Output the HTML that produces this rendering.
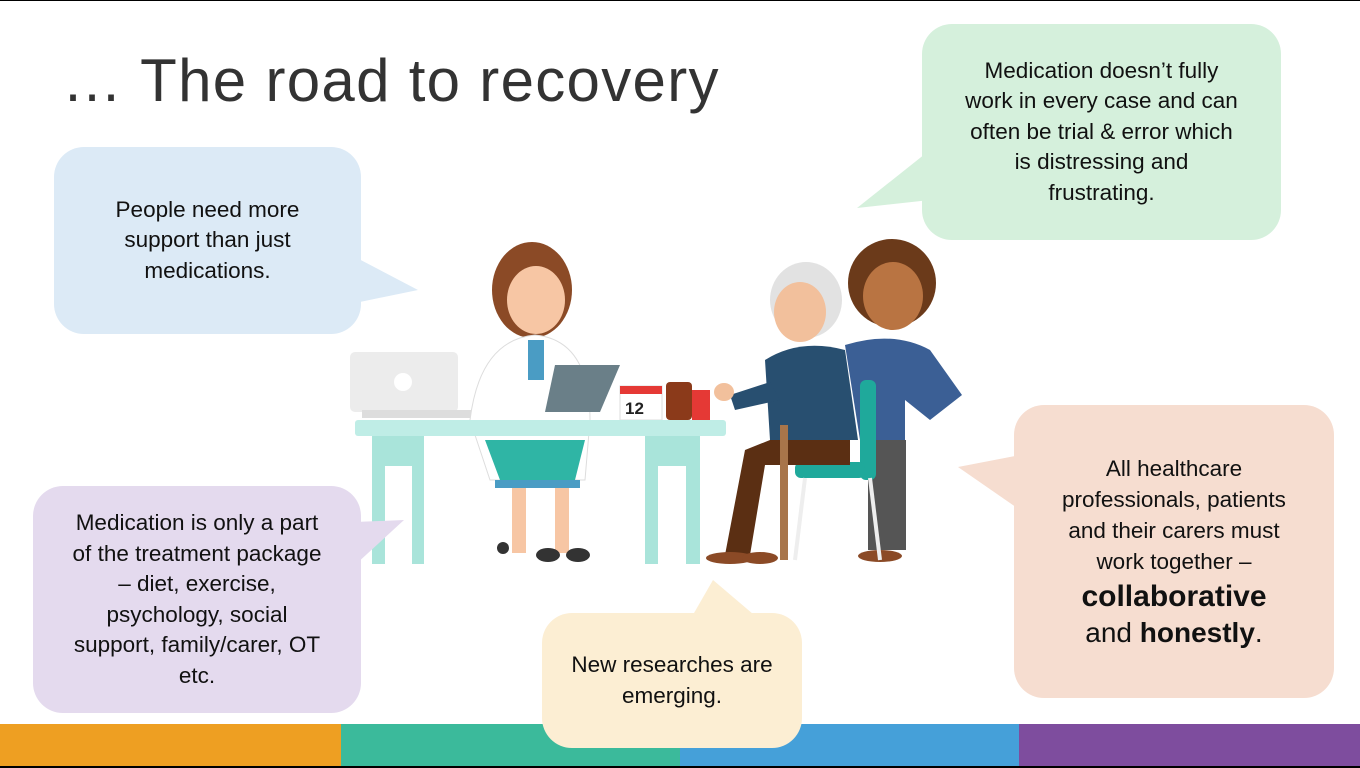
<!DOCTYPE html>
<html><head><meta charset="utf-8">
<style>
html,body{margin:0;padding:0}
body{width:1360px;height:768px;position:relative;overflow:hidden;background:#fff;font-family:"Liberation Sans",sans-serif;color:#111}
.top{position:absolute;left:0;top:0;width:1360px;height:1px;background:#000}
.bot{position:absolute;left:0;top:766px;width:1360px;height:2px;background:#000}
h1{position:absolute;left:62px;top:46px;margin:0;font-weight:normal;font-size:60px;color:#333;letter-spacing:1.3px}
.b{position:absolute;border-radius:30px;display:flex;align-items:center;justify-content:center;text-align:center;font-size:22.5px;line-height:30.5px}
.bar{position:absolute;top:724px;height:42px}
svg{position:absolute;left:0;top:0}
</style></head><body>
<div class="top"></div>
<div class="bar" style="left:0;width:341px;background:#EE9F22"></div>
<div class="bar" style="left:341px;width:339px;background:#3BBA9B"></div>
<div class="bar" style="left:680px;width:339px;background:#45A0D9"></div>
<div class="bar" style="left:1019px;width:341px;background:#7E4D9E"></div>
<h1>… The road to recovery</h1>
<svg width="1360" height="768">
<!-- table -->
<rect x="350" y="352" width="108" height="60" rx="5" fill="#ececec"/>
<circle cx="403" cy="382" r="9" fill="#fff"/>
<rect x="362" y="410" width="110" height="8" fill="#ddd"/>
<rect x="372" y="436" width="52" height="128" fill="#A9E4DA"/>
<rect x="385" y="466" width="27" height="98" fill="#fff"/>
<rect x="645" y="436" width="55" height="128" fill="#A9E4DA"/>
<rect x="658" y="466" width="28" height="98" fill="#fff"/>
<!-- doctor -->
<ellipse cx="532" cy="290" rx="40" ry="48" fill="#8B4A26"/>
<ellipse cx="536" cy="300" rx="29" ry="34" fill="#F7C6A4"/>
<path d="M470 420 Q480 340 535 335 Q590 340 590 420 L585 480 L490 480 Z" fill="#fff" stroke="#ddd"/>
<rect x="528" y="340" width="16" height="40" fill="#4A9CC4"/>
<rect x="495" y="480" width="85" height="8" fill="#4A9CC4"/>
<path d="M485 440 L500 480 L575 480 L585 440 Z" fill="#2FB5A5"/>
<rect x="512" y="488" width="14" height="65" fill="#F7C6A4"/>
<rect x="555" y="488" width="14" height="65" fill="#F7C6A4"/>
<ellipse cx="548" cy="555" rx="12" ry="7" fill="#333"/>
<ellipse cx="578" cy="555" rx="12" ry="7" fill="#333"/>
<circle cx="503" cy="548" r="6" fill="#333"/>
<polygon points="555,365 620,365 600,412 545,412" fill="#6A7F88"/>
<rect x="620" y="386" width="42" height="34" fill="#fff" stroke="#ddd"/>
<rect x="620" y="386" width="42" height="8" fill="#E53935"/>
<text x="625" y="414" font-size="17" font-weight="bold" font-family="Liberation Sans" fill="#222">12</text>
<rect x="666" y="382" width="26" height="38" rx="4" fill="#8B3A1A"/>
<rect x="692" y="390" width="18" height="30" fill="#E53935"/>
<rect x="355" y="420" width="371" height="16" rx="3" fill="#BFEDE6"/>
<!-- carer -->
<circle cx="892" cy="283" r="44" fill="#6B3A1A"/>
<ellipse cx="893" cy="296" rx="30" ry="34" fill="#B97442"/>
<path d="M845 345 Q893 330 930 350 L962 395 L930 420 L905 400 L905 440 L860 440 Z" fill="#3B5F95"/>
<rect x="868" y="440" width="38" height="110" fill="#555"/>
<ellipse cx="880" cy="556" rx="22" ry="6" fill="#8B4A26"/>
<!-- chair -->
<rect x="860" y="380" width="16" height="100" rx="6" fill="#1FA99B"/>
<rect x="795" y="462" width="70" height="16" rx="6" fill="#1FA99B"/>
<line x1="805" y1="478" x2="795" y2="560" stroke="#eee" stroke-width="4"/>
<line x1="870" y1="478" x2="880" y2="560" stroke="#eee" stroke-width="4"/>
<!-- patient -->
<ellipse cx="806" cy="300" rx="36" ry="38" fill="#E2E2E2"/>
<ellipse cx="800" cy="312" rx="26" ry="30" fill="#F2C09C"/>
<path d="M765 360 Q800 338 845 350 L858 440 L770 440 Z" fill="#284F70"/>
<path d="M770 382 L730 395 L735 410 L780 400 Z" fill="#284F70"/>
<ellipse cx="724" cy="392" rx="10" ry="9" fill="#F2C09C"/>
<path d="M770 440 L850 440 L850 465 L765 465 L750 555 L725 555 L745 450 Z" fill="#5B2F13"/>
<rect x="780" y="425" width="8" height="135" fill="#A8754A"/>
<ellipse cx="730" cy="558" rx="24" ry="6" fill="#8B4A26"/>
<ellipse cx="760" cy="558" rx="18" ry="6" fill="#8B4A26"/>
<!-- tails on top -->
<polygon points="355,257 418,290 355,303" fill="#DCEAF6"/>
<polygon points="930,150 857,208 930,200" fill="#D5F0DC"/>
<polygon points="355,522 404,520 355,565" fill="#E4DAEE"/>
<polygon points="690,620 713,580 760,620" fill="#FCEED3"/>
<polygon points="1020,455 958,467 1020,510" fill="#F6DDD0"/>
</svg>
<div class="b" style="left:54px;top:147px;width:307px;height:187px;background:#DCEAF6">People need more<br>support than just<br>medications.</div>
<div class="b" style="left:922px;top:24px;width:359px;height:216px;background:#D5F0DC">Medication doesn’t fully<br>work in every case and can<br>often be trial &amp; error which<br>is distressing and<br>frustrating.</div>
<div class="b" style="left:33px;top:486px;width:328px;height:227px;background:#E4DAEE">Medication is only a part<br>of the treatment package<br>– diet, exercise,<br>psychology, social<br>support, family/carer, OT<br>etc.</div>
<div class="b" style="left:542px;top:613px;width:260px;height:135px;background:#FCEED3">New researches are<br>emerging.</div>
<div class="b" style="left:1014px;top:405px;width:320px;height:293px;background:#F6DDD0;line-height:31px"><div>All healthcare<br>professionals, patients<br>and their carers must<br>work together –<br><b style="font-size:30px;line-height:40px">collaborative</b><br><span style="font-size:28px">and <b>honestly</b>.</span></div></div>
<div class="bot"></div>
</body></html>
